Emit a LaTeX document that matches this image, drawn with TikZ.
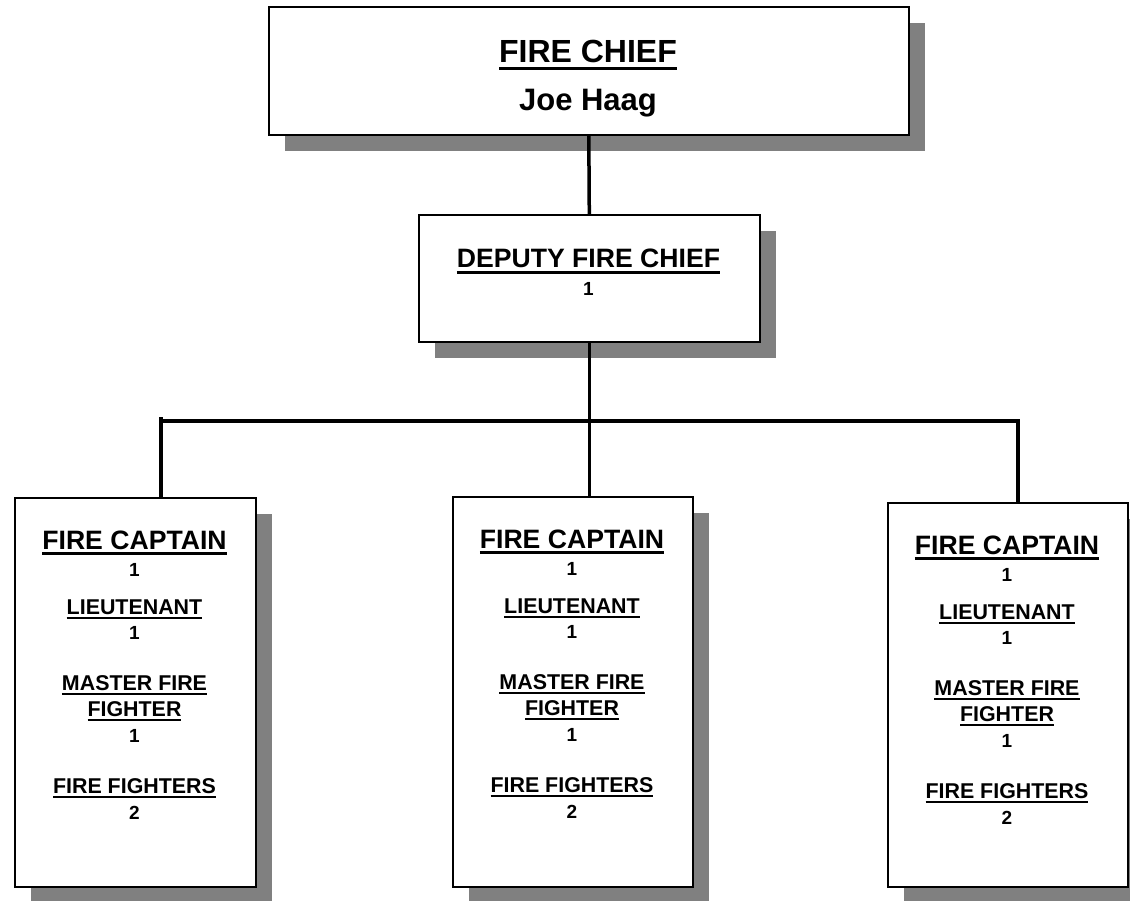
\documentclass[tikz,border=0pt]{standalone}
\usepackage{fontspec}
\setmainfont{Liberation Sans}
\usetikzlibrary{shadows}
\definecolor{shadowgray}{HTML}{808080}
% underlined word: rule drawn a little below the baseline
\newcommand\ulbox[1]{\setbox0\hbox{#1}\rlap{\rule[-0.21em]{\wd0}{0.08em}}\box0}
\begin{document}
\begin{tikzpicture}[x=1pt,y=-1pt,
  box/.style={draw=black, line width=1.6pt, fill=white, inner sep=0pt,
    anchor=north west,
    general shadow={fill=shadowgray, shadow xshift=16pt, shadow yshift=-16pt}},
  conn/.style={line width=3.5pt},
  busline/.style={line width=4.5pt},
  txt/.style={anchor=base, inner sep=0pt},
  fchief/.style={txt, font=\bfseries\fontsize{32}{36}\selectfont},
  fname/.style={txt, font=\bfseries\fontsize{31}{36}\selectfont},
  fdeputy/.style={txt, font=\bfseries\fontsize{26.6}{30}\selectfont},
  fnum/.style={txt, font=\bfseries\fontsize{19}{22}\selectfont},
  frank/.style={txt, font=\bfseries\fontsize{21.4}{24}\selectfont}]
\useasboundingbox (0,0) rectangle (1130,901);
\clip (0,0) rectangle (1130,901);

% boxes
\node[box, minimum width=640pt, minimum height=128pt] (chief) at (268,6) {};
\node[box, minimum width=341pt, minimum height=127pt] (deputy) at (418,214) {};
\node[box, minimum width=241pt, minimum height=389pt] (cap1) at (14,497) {};
\node[box, minimum width=240pt, minimum height=390pt] (cap2) at (452,496) {};
\node[box, minimum width=240pt, minimum height=384pt] (cap3) at (887,502) {};

% connectors
\coordinate (busL) at (161,421);
\coordinate (busR) at (1018,421);
\draw[conn] (chief.south) -- (deputy.north);
\draw[conn] (deputy.south) -- (deputy.south |- cap2.north);
\draw[busline] (busL) -- (busR);
\draw[conn] ([yshift=4pt]busL) -- (busL |- cap1.north);
\draw[conn] ([yshift=2pt]busR) -- (busR |- cap3.north);

% chief
\node[fchief] (chiefT) at (588,63) {\ulbox{FIRE CHIEF}};
\node[fname] (chiefN) at (588,111) {Joe Haag};

% deputy
\node[fdeputy] (depT) at (588.5,268) {\ulbox{DEPUTY FIRE CHIEF}};
\node[fnum] (depN) at (588.5,296) {1};

% captain boxes
\foreach \i/\x/\y in {1/134.5/497, 2/572/496, 3/1007/502}{
  \node[fdeputy] (t\i) at (\x,\y+52) {\ulbox{FIRE CAPTAIN}};
  \node[fnum] (tn\i) at (\x,\y+79) {1};
  \node[frank] (l\i) at (\x,\y+117.5) {\ulbox{LIEUTENANT}};
  \node[fnum] (ln\i) at (\x,\y+142.5) {1};
  \node[frank] (ma\i) at (\x,\y+193.5) {\ulbox{MASTER FIRE}};
  \node[frank] (mb\i) at (\x,\y+219.5) {\ulbox{FIGHTER}};
  \node[fnum] (mn\i) at (\x,\y+245.5) {1};
  \node[frank] (f\i) at (\x,\y+296.5) {\ulbox{FIRE FIGHTERS}};
  \node[fnum] (fn\i) at (\x,\y+322.5) {2};
}
\end{tikzpicture}
\end{document}
